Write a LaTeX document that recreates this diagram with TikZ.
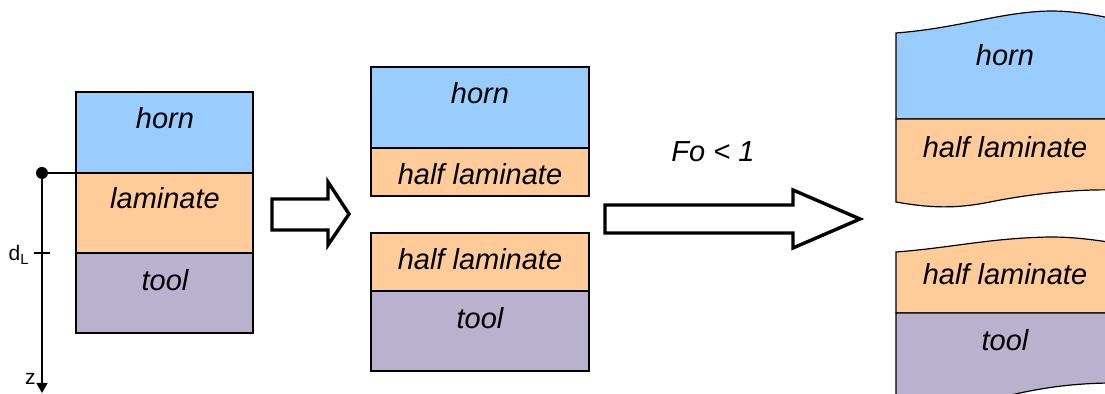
\documentclass[tikz,border=0pt]{standalone}
\usepackage{fontspec}
\setmainfont{Liberation Sans}
\usepackage{xcolor}
\usetikzlibrary{arrows.meta, positioning}
\definecolor{cHorn}{RGB}{153,204,255}
\definecolor{cLam}{RGB}{255,204,153}
\definecolor{cTool}{RGB}{185,178,207}
\tikzset{
	layer/.style   ={draw=black, line width=0.6pt},
	lbl/.style     ={font=\fontsize{14.5}{17}\selectfont\itshape, inner sep=0pt},
	fatarrow/.style={draw=black, fill=white, line width=1.7pt, line join=miter},
	axisline/.style={line width=0.7pt},
	axisarrow/.style={-{Triangle[length=5pt, width=5.5pt]}, line width=0.7pt},
	small/.style   ={font=\fontsize{10.5}{12}\selectfont, inner sep=0pt},
}

\begin{document}
\begin{tikzpicture}[x=0.5pt, y=-0.5pt]
	\useasboundingbox (0,0) rectangle (1105,394);
	% before contact
	\filldraw[layer, fill=cHorn] (76,92) rectangle (253,173);
	\filldraw[layer, fill=cLam]  (76,173) rectangle (253,253);
	\filldraw[layer, fill=cTool] (76,253) rectangle (253,333);
	\node[lbl] (horn1) at (165,118) {horn};
	\node[lbl] (lam1)  at (165,198) {laminate};
	\node[lbl] (tool1) at (165,280) {tool};
	% depth axis
	\coordinate (surf) at (76,173);
	\node[circle, fill=black, inner sep=0pt, minimum size=6pt] (zero) at (42,173) {};
	\coordinate (zend) at (42,393);
	\coordinate (dL) at (42,253);
	\draw[axisline] (zero.center) -- (surf);
	\draw[axisarrow] (zero.center) -- (zend);
	\draw[axisline] ([xshift=-4pt]dL) -- ([xshift=4pt]dL);
	\node[small, anchor=east] (dLlbl) at (30,255) {d\textsubscript{L}};
	\node[small, anchor=east] (zlbl) at (36,379) {z};
	% first step
	\draw[fatarrow] (272,199) -- (328,199) -- (328,182) -- (349,214) -- (328,245) -- (328,230) -- (272,230) -- cycle;
	% split laminate
	\filldraw[layer, fill=cHorn] (371,67) rectangle (589,148);
	\filldraw[layer, fill=cLam]  (371,148) rectangle (589,196);
	\filldraw[layer, fill=cLam]  (371,233) rectangle (589,291);
	\filldraw[layer, fill=cTool] (371,291) rectangle (589,371);
	\node[lbl] (horn2)  at (480,93)  {horn};
	\node[lbl] (half2a) at (480,174) {half laminate};
	\node[lbl] (half2b) at (480,259) {half laminate};
	\node[lbl] (tool2)  at (480,318) {tool};
	% second step
	\node[lbl] (fo) at (713,152) {Fo < 1};
	\draw[fatarrow] (605,205) -- (793,205) -- (793,190) -- (860,219) -- (793,248) -- (793,233) -- (605,233) -- cycle;
	% heated halves, cut off at the edge
	\begin{scope}
		\clip (0,0) rectangle (1105,394);
		\filldraw[layer, fill=cHorn] (896,119) -- (896,33) .. controls (960,28) and (1000,12) .. (1050,11) .. controls (1075,11) and (1095,15) .. (1115,19) -- (1115,119) -- cycle;
		\filldraw[layer, fill=cLam] (896,119) -- (896,202) .. controls (930,208) and (955,209) .. (990,202) .. controls (1030,194) and (1075,189) .. (1115,190) -- (1115,119) -- cycle;
		\filldraw[layer, fill=cLam] (896,313) -- (896,252) .. controls (950,248) and (990,238) .. (1050,237) .. controls (1075,237) and (1095,240) .. (1115,243) -- (1115,313) -- cycle;
		\filldraw[layer, fill=cTool] (896,313) -- (896,400) -- (990,400) .. controls (1030,390) and (1065,383) .. (1115,383) -- (1115,313) -- cycle;
	\end{scope}
	\node[lbl] (horn3)  at (1005,55)  {horn};
	\node[lbl] (half3a) at (1005,147) {half laminate};
	\node[lbl] (half3b) at (1005,274) {half laminate};
	\node[lbl] (tool3)  at (1005,340) {tool};
\end{tikzpicture}
\end{document}
